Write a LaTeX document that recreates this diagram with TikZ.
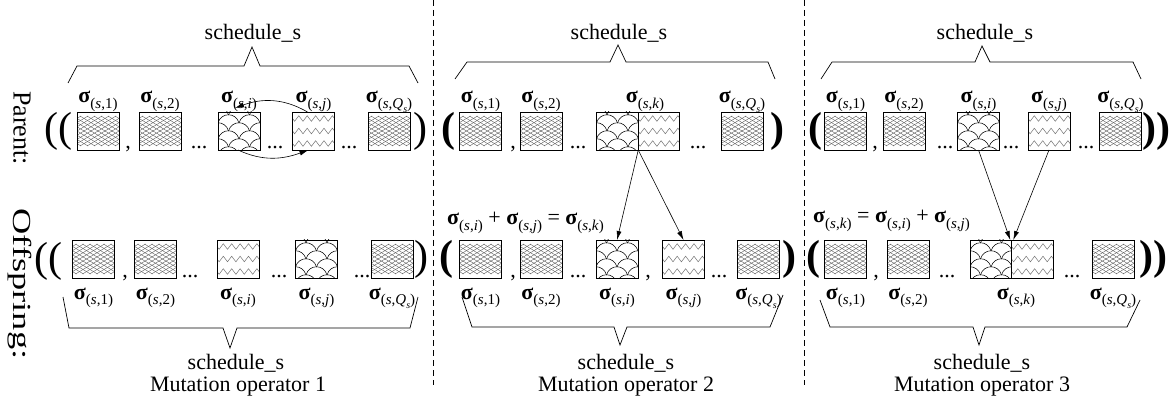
\documentclass[tikz,border=0pt]{standalone}
\usepackage{fontspec}
\setmainfont{Liberation Serif}
\usetikzlibrary{arrows.meta,decorations.pathmorphing}

% sigma with its index pair as a subscript
\newcommand{\sg}[1]{\textbf{σ}\raisebox{-0.27em}{\fontsize{15}{15}\selectfont(\textit{s},#1)}}
\newcommand{\Qsub}{\textit{Q}\raisebox{-0.25em}{\fontsize{10}{10}\selectfont\textit{s}}}

\tikzset{
  cell/.style={draw, line width=0.8pt, minimum width=42pt, minimum height=38pt,
               inner sep=0pt, outer sep=0pt},
  halfcell/.style={cell, minimum width=41.5pt},
  % fine diamond mesh
  mesh/.style={path picture={
     \begin{scope}[shift={(path picture bounding box.center)}, black!65, line width=0.4pt]
       \foreach \k in {-10,...,10}{
         \draw (\k*7-25,-15) -- (\k*7+25,15);
         \draw (\k*7-25,15) -- (\k*7+25,-15);}
     \end{scope}}},
  % overlapping scales, arcs bulging upwards
  scales/.style={path picture={
     \begin{scope}[shift={(path picture bounding box.center)}, line width=0.5pt]
       \foreach \row in {0,...,6}{
         \pgfmathsetmacro{\off}{mod(\row,2)*10.5}
         \foreach \col in {-2,...,1}{
           \pgfmathsetmacro{\xa}{\col*21-\off}
           \pgfmathsetmacro{\ya}{\row*8-24}
           \draw (\xa,\ya) .. controls (\xa+3,\ya+11) and (\xa+18,\ya+11) .. (\xa+21,\ya);}}
     \end{scope}}},
  % three zigzag lines
  zz/.style={path picture={
     \begin{scope}[shift={(path picture bounding box.center)}, black!55, line width=0.5pt,
                   decoration={zigzag, segment length=8.4pt, amplitude=2.8pt}]
       \foreach \yy in {-12.5,0,12.5}{\draw[decorate] (-25.2,\yy) -- (25.2,\yy);}
     \end{scope}}},
  txt/.style={font=\fontsize{22}{24}\selectfont, inner sep=0pt},
  pt/.style={txt, anchor=base},
  sig/.style={font=\fontsize{22}{24}\selectfont, inner sep=0pt, anchor=base},
  par/.style={font=\fontsize{42}{42}\selectfont, inner sep=0pt},
  bpar/.style={font=\fontsize{42}{42}\selectfont\bfseries, inner sep=0pt},
  side/.style={font=\fontsize{26}{28}\selectfont, rotate=-90, inner sep=0pt},
  arr/.style={-{Latex[length=9pt,width=5pt]}, line width=0.6pt},
  brace/.style={line width=0.7pt},
  sep/.style={line width=0.8pt, dash pattern=on 6pt off 4pt}
}

\begin{document}
\begin{tikzpicture}[x=1pt, y=1pt]
\useasboundingbox (0,0) rectangle (1170,-398);

\coordinate (yP) at (0,-103);
\coordinate (yO) at (0,-299);

% row titles
\node[side] (lpar) at (22,-128) {Parent:};
\node[side, xscale=1.4] (loff) at (20,-284) {Offspring:};

% panel separators
\draw[sep] (433,0) -- (433,-385);
\draw[sep] (804,0) -- (804,-385);

% ---------------- operator 1: swap ----------------
\node[cell,mesh]   (p1a) at (98,-131) {};
\node[cell,mesh]   (p1b) at (160,-131) {};
\node[cell,scales] (p1i) at (239,-131) {};
\node[cell,zz]     (p1j) at (313.5,-131) {};
\node[cell,mesh]   (p1q) at (389,-131) {};

\node[cell,mesh]   (o1a) at (93.5,-259) {};
\node[cell,mesh]   (o1b) at (155.5,-259) {};
\node[cell,zz]     (o1i) at (238,-259) {};
\node[cell,scales] (o1j) at (316.5,-259) {};
\node[cell,mesh]   (o1q) at (392,-259) {};

\node[sig] (lp1a) at (p1a |- yP) {\sg{1}};
\node[sig] (lp1b) at (p1b |- yP) {\sg{2}};
\node[sig] (lp1i) at (p1i |- yP) {\sg{\textit{i}}};
\node[sig] (lp1j) at (p1j |- yP) {\sg{\textit{j}}};
\node[sig] (lp1q) at (p1q |- yP) {\sg{\Qsub}};

\node[sig] (lo1a) at (o1a |- yO) {\sg{1}};
\node[sig] (lo1b) at (o1b |- yO) {\sg{2}};
\node[sig] (lo1i) at (o1i |- yO) {\sg{\textit{i}}};
\node[sig] (lo1j) at (o1j |- yO) {\sg{\textit{j}}};
\node[sig] (lo1q) at (o1q |- yO) {\sg{\Qsub}};

\node[par] (bp1l) at (58,-131) {((};
\node[par] (bp1r) at (420,-131) {)};
\node[par] (bo1l) at (48,-261) {((};
\node[par] (bo1r) at (421,-259) {)};

\node[pt] (cp1) at (128,-149) {,};
\node[pt] (dp1a) at (199,-149) {...};
\node[pt] (dp1b) at (275,-149) {...};
\node[pt] (dp1c) at (349,-149) {...};
\node[pt] (co1) at (125,-277) {,};
\node[pt] (do1a) at (190,-277) {...};
\node[pt] (do1b) at (279,-277) {...};
\node[pt] (do1c) at (362,-277) {...};

\draw[arr] ([xshift=-6pt]p1j.north) to[out=150,in=20] ([xshift=-4pt,yshift=4pt]p1i.north);
\draw[arr] ([xshift=-1pt]p1i.south) to[out=-25,in=200] ([xshift=-5pt]p1j.south);

\draw[brace] (68,-83) -- (77,-66) -- (244,-66) -- (252,-47) -- (260,-66) -- (409,-66) -- (418,-83);
\draw[brace] (63,-297) -- (69,-328) -- (223,-328) -- (230,-348) -- (237,-328) -- (410,-328) -- (418,-297);
\node[pt] (t1) at (253,-40) {schedule\_s};
\node[pt] (b1) at (236,-369) {schedule\_s};
\node[pt] (m1) at (238,-391) {Mutation operator 1};

% ---------------- operator 2: split ----------------
\node[cell,mesh]       (p2a)  at (480.5,-131) {};
\node[cell,mesh]       (p2b)  at (541,-131) {};
\node[halfcell,scales] (p2ki) at (617.5,-131) {};
\node[halfcell,zz]     (p2kj) at (659,-131) {};
\node[cell,mesh]       (p2q)  at (742,-131) {};

\node[cell,mesh]   (o2a) at (480.5,-259) {};
\node[cell,mesh]   (o2b) at (541,-259) {};
\node[cell,scales] (o2i) at (617,-259) {};
\node[cell,zz]     (o2j) at (683.5,-259) {};
\node[cell,mesh]   (o2q) at (758.5,-259) {};

\node[sig] (lp2a) at (p2a |- yP) {\sg{1}};
\node[sig] (lp2b) at (p2b |- yP) {\sg{2}};
\node[sig] (lp2k) at (645,-103) {\sg{\textit{k}}};
\node[sig] (lp2q) at (p2q |- yP) {\sg{\Qsub}};

\node[sig] (lo2a) at (o2a |- yO) {\sg{1}};
\node[sig] (lo2b) at (o2b |- yO) {\sg{2}};
\node[sig] (lo2i) at (o2i |- yO) {\sg{\textit{i}}};
\node[sig] (lo2j) at (o2j |- yO) {\sg{\textit{j}}};
\node[sig] (lo2q) at (o2q |- yO) {\sg{\Qsub}};

\node[bpar] (bp2l) at (448,-131) {(};
\node[bpar] (bp2r) at (777,-131) {)};
\node[bpar] (bo2l) at (446,-259) {(};
\node[bpar] (bo2r) at (789,-259) {)};

\node[pt] (cp2) at (513,-149) {,};
\node[pt] (dp2a) at (578,-149) {...};
\node[pt] (dp2b) at (698,-149) {...};
\node[pt] (co2a) at (513,-277) {,};
\node[pt] (do2a) at (578,-277) {...};
\node[pt] (co2b) at (648,-277) {,};
\node[pt] (do2b) at (719,-277) {...};

\draw[arr] (p2ki.south east) -- (o2i.north);
\draw[arr] (p2ki.south east) -- (o2j.north);

\node[sig, anchor=base west] (eq2) at (447,-225)
  {\sg{\textit{i}} + \sg{\textit{j}} = \sg{\textit{k}}};

\draw[brace] (455,-79) -- (467,-62) -- (610,-62) -- (618,-45) -- (626,-62) -- (768,-62) -- (775,-79);
\draw[brace] (462,-297) -- (472,-327) -- (614,-327) -- (620,-345) -- (627,-327) -- (770,-327) -- (783,-295);
\node[pt] (t2) at (619,-40) {schedule\_s};
\node[pt] (b2) at (626,-369) {schedule\_s};
\node[pt] (m2) at (626,-391) {Mutation operator 2};

% ---------------- operator 3: merge ----------------
\node[cell,mesh]   (p3a) at (845.5,-131) {};
\node[cell,mesh]   (p3b) at (904,-131) {};
\node[cell,scales] (p3i) at (978.5,-131) {};
\node[cell,zz]     (p3j) at (1049,-131) {};
\node[cell,mesh]   (p3q) at (1120.5,-131) {};

\node[cell,mesh]       (o3a)  at (845.5,-259) {};
\node[cell,mesh]       (o3b)  at (908,-259) {};
\node[halfcell,scales] (o3ki) at (991,-259) {};
\node[halfcell,zz]     (o3kj) at (1032.5,-259) {};
\node[cell,mesh]       (o3q)  at (1113,-259) {};

\node[sig] (lp3a) at (p3a |- yP) {\sg{1}};
\node[sig] (lp3b) at (p3b |- yP) {\sg{2}};
\node[sig] (lp3i) at (p3i |- yP) {\sg{\textit{i}}};
\node[sig] (lp3j) at (p3j |- yP) {\sg{\textit{j}}};
\node[sig] (lp3q) at (p3q |- yP) {\sg{\Qsub}};

\node[sig] (lo3a) at (o3a |- yO) {\sg{1}};
\node[sig] (lo3b) at (o3b |- yO) {\sg{2}};
\node[sig] (lo3k) at (1016,-299) {\sg{\textit{k}}};
\node[sig] (lo3q) at (o3q |- yO) {\sg{\Qsub}};

\node[bpar] (bp3l) at (815,-131) {(};
\node[bpar] (bp3r) at (1156,-131) {))};
\node[bpar] (bo3l) at (813,-259) {(};
\node[bpar] (bo3r) at (1153,-259) {))};

\node[pt] (cp3) at (875,-149) {,};
\node[pt] (dp3a) at (945,-149) {...};
\node[pt] (dp3b) at (1011,-149) {...};
\node[pt] (dp3c) at (1086,-149) {...};
\node[pt] (co3) at (876,-277) {,};
\node[pt] (do3a) at (947,-277) {...};
\node[pt] (do3b) at (1072,-277) {...};

\draw[arr] (p3i.south) -- ([xshift=-1.5pt]o3ki.north east);
\draw[arr] (p3j.south) -- ([xshift=1.5pt]o3kj.north west);

\node[sig, anchor=base west] (eq3) at (813,-223)
  {\sg{\textit{k}} = \sg{\textit{i}} + \sg{\textit{j}}};

\draw[brace] (821,-79) -- (832,-62) -- (975,-62) -- (982,-46) -- (990,-62) -- (1133,-62) -- (1141,-79);
\draw[brace] (820,-300) -- (830,-327) -- (973,-327) -- (979,-345) -- (985,-327) -- (1127,-327) -- (1140,-300);
\node[pt] (t3) at (985,-40) {schedule\_s};
\node[pt] (b3) at (982,-369) {schedule\_s};
\node[pt] (m3) at (982,-391) {Mutation operator 3};
\end{tikzpicture}
\end{document}
